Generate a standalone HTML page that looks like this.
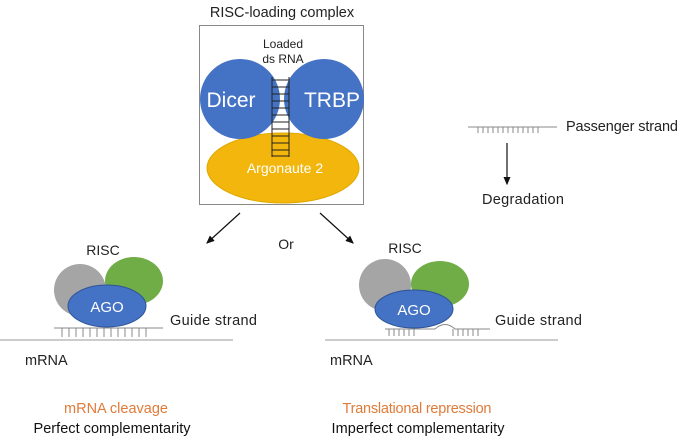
<!DOCTYPE html>
<html><head><meta charset="utf-8"><style>
html,body{margin:0;padding:0;background:#fff;}
svg text{font-family:"Liberation Sans",sans-serif;}
</style></head><body>
<svg width="685" height="439" viewBox="0 0 685 439" xmlns="http://www.w3.org/2000/svg">
<defs><marker id="ah" markerWidth="8" markerHeight="8" refX="6" refY="4" orient="auto"><path d="M0,1 L7,4 L0,7 z" fill="#111"/></marker></defs>
<text x="282" y="17" font-size="14.5" text-anchor="middle" fill="#222">RISC-loading complex</text>
<rect x="199.5" y="25.5" width="164" height="179" fill="#fff" stroke="#888"/>
<text x="283" y="48" font-size="12" text-anchor="middle" fill="#222">Loaded</text>
<text x="283" y="63" font-size="12" text-anchor="middle" fill="#222">ds RNA</text>
<ellipse cx="283" cy="168" rx="76" ry="35" fill="#f3b60c" stroke="#e0a800"/>
<circle cx="240" cy="99" r="40" fill="#4472c4"/>
<circle cx="324" cy="99" r="40" fill="#4472c4"/>
<g stroke="#222" stroke-width="1">
<line x1="272" y1="77" x2="272" y2="157"/><line x1="289" y1="77" x2="289" y2="157"/>
<line x1="272" y1="80" x2="289" y2="80"/><line x1="272" y1="87" x2="289" y2="87"/><line x1="272" y1="94" x2="289" y2="94"/><line x1="272" y1="101" x2="289" y2="101"/><line x1="272" y1="108" x2="289" y2="108"/><line x1="272" y1="115" x2="289" y2="115"/><line x1="272" y1="122" x2="289" y2="122"/><line x1="272" y1="129" x2="289" y2="129"/><line x1="272" y1="136" x2="289" y2="136"/><line x1="272" y1="143" x2="289" y2="143"/><line x1="272" y1="150" x2="289" y2="150"/><line x1="272" y1="156" x2="289" y2="156"/>
</g>
<text x="231" y="107" font-size="21" text-anchor="middle" fill="#fff">Dicer</text>
<text x="332" y="107" font-size="21" text-anchor="middle" fill="#fff">TRBP</text>
<text x="285" y="173" font-size="14" text-anchor="middle" fill="#fff">Argonaute 2</text>
<line x1="240" y1="213" x2="207" y2="243" stroke="#111" stroke-width="1.2" marker-end="url(#ah)"/>
<line x1="320" y1="213" x2="353" y2="243" stroke="#111" stroke-width="1.2" marker-end="url(#ah)"/>
<text x="286" y="249" font-size="14" text-anchor="middle" fill="#222">Or</text>
<line x1="468" y1="127" x2="557" y2="127" stroke="#888"/>
<g stroke="#888">
<line x1="478" y1="127" x2="478" y2="133"/><line x1="483" y1="127" x2="483" y2="133"/><line x1="488" y1="127" x2="488" y2="133"/><line x1="493" y1="127" x2="493" y2="133"/><line x1="498" y1="127" x2="498" y2="133"/><line x1="503" y1="127" x2="503" y2="133"/><line x1="508" y1="127" x2="508" y2="133"/><line x1="513" y1="127" x2="513" y2="133"/><line x1="518" y1="127" x2="518" y2="133"/><line x1="523" y1="127" x2="523" y2="133"/><line x1="528" y1="127" x2="528" y2="133"/><line x1="533" y1="127" x2="533" y2="133"/><line x1="538" y1="127" x2="538" y2="133"/>
</g>
<text x="566" y="131" font-size="14.5" fill="#222" textLength="112">Passenger strand</text>
<line x1="507" y1="143" x2="507" y2="184" stroke="#111" stroke-width="1.2" marker-end="url(#ah)"/>
<text x="482" y="204" font-size="14.5" fill="#222" textLength="82">Degradation</text>
<text x="103" y="255" font-size="14" text-anchor="middle" fill="#222">RISC</text>
<circle cx="80" cy="290" r="26" fill="#a5a5a5"/>
<ellipse cx="134" cy="281" rx="29" ry="24" fill="#70ad47"/>
<ellipse cx="107" cy="306" rx="39" ry="21" fill="#4472c4" stroke="#2f5597"/>
<text x="107" y="312" font-size="15" text-anchor="middle" fill="#fff">AGO</text>
<line x1="54" y1="328" x2="163" y2="328" stroke="#888"/>
<g stroke="#888"><line x1="62" y1="328" x2="62" y2="337"/><line x1="69" y1="328" x2="69" y2="337"/><line x1="76" y1="328" x2="76" y2="337"/><line x1="83" y1="328" x2="83" y2="337"/><line x1="90" y1="328" x2="90" y2="337"/><line x1="97" y1="328" x2="97" y2="337"/><line x1="104" y1="328" x2="104" y2="337"/><line x1="111" y1="328" x2="111" y2="337"/><line x1="118" y1="328" x2="118" y2="337"/><line x1="125" y1="328" x2="125" y2="337"/><line x1="132" y1="328" x2="132" y2="337"/><line x1="139" y1="328" x2="139" y2="337"/><line x1="146" y1="328" x2="146" y2="337"/></g>
<line x1="0" y1="340" x2="233" y2="340" stroke="#999"/>
<text x="170" y="325" font-size="14.5" fill="#222" textLength="87">Guide strand</text>
<text x="25" y="365" font-size="14.5" fill="#222">mRNA</text>
<text x="405" y="253" font-size="14" text-anchor="middle" fill="#222">RISC</text>
<circle cx="385" cy="285" r="26" fill="#a5a5a5"/>
<ellipse cx="440" cy="284" rx="29" ry="23" fill="#70ad47"/>
<ellipse cx="414" cy="309" rx="39" ry="19" fill="#4472c4" stroke="#2f5597"/>
<text x="414" y="315" font-size="15" text-anchor="middle" fill="#fff">AGO</text>
<path d="M385,329 L435,329 Q445,320 455,329 L490,329" fill="none" stroke="#888"/>
<g stroke="#888"><line x1="389" y1="329" x2="389" y2="336"/><line x1="394" y1="329" x2="394" y2="336"/><line x1="399" y1="329" x2="399" y2="336"/><line x1="404" y1="329" x2="404" y2="336"/><line x1="409" y1="329" x2="409" y2="336"/><line x1="414" y1="329" x2="414" y2="336"/><line x1="453" y1="329" x2="453" y2="336"/><line x1="458" y1="329" x2="458" y2="336"/><line x1="463" y1="329" x2="463" y2="336"/><line x1="468" y1="329" x2="468" y2="336"/><line x1="473" y1="329" x2="473" y2="336"/><line x1="478" y1="329" x2="478" y2="336"/></g>
<line x1="325" y1="340" x2="558" y2="340" stroke="#999"/>
<text x="495" y="325" font-size="14.5" fill="#222" textLength="87">Guide strand</text>
<text x="330" y="365" font-size="14.5" fill="#222">mRNA</text>
<text x="116" y="413" font-size="14.5" text-anchor="middle" fill="#e07b39">mRNA cleavage</text>
<text x="112" y="433" font-size="14.5" text-anchor="middle" fill="#111" textLength="157">Perfect complementarity</text>
<text x="417" y="413" font-size="14.5" text-anchor="middle" fill="#e07b39" textLength="149">Translational repression</text>
<text x="418" y="433" font-size="14.5" text-anchor="middle" fill="#111" textLength="173">Imperfect complementarity</text>
</svg>
</body></html>
